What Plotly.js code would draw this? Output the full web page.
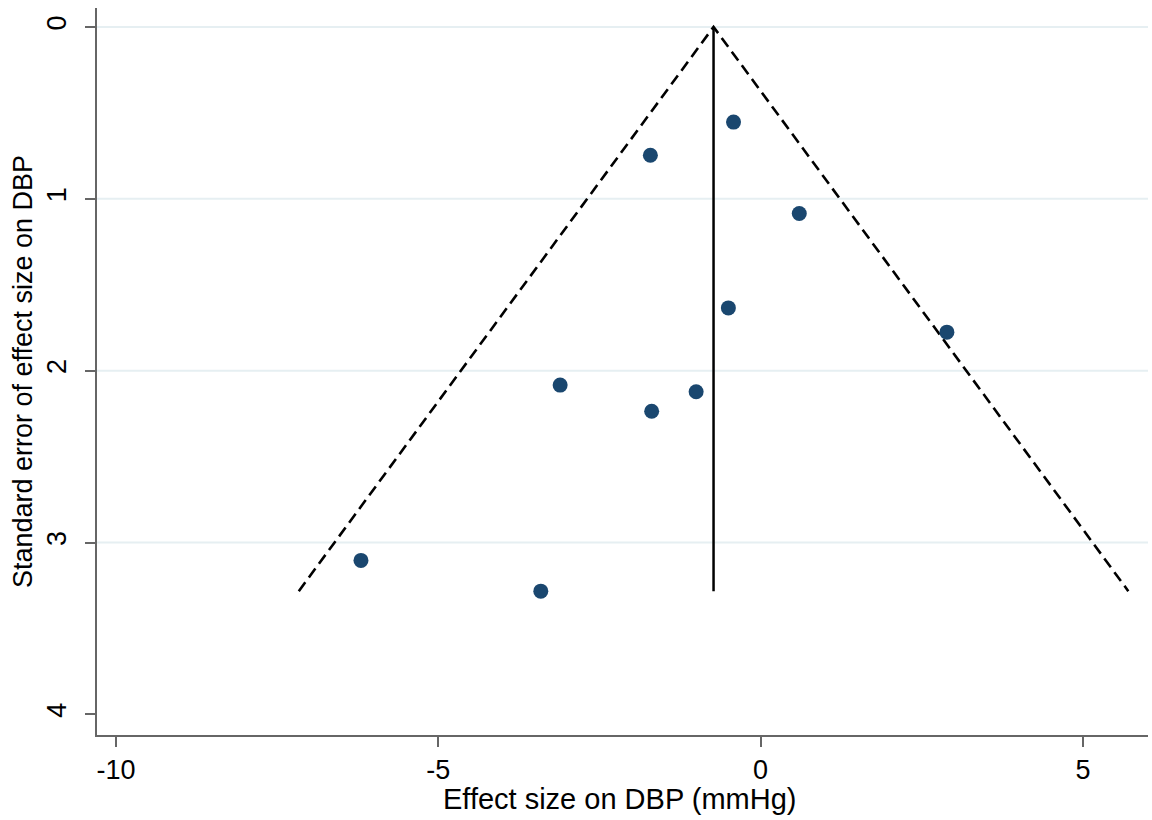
<!DOCTYPE html>
<html>
<head>
<meta charset="utf-8">
<script src="https://cdn.plot.ly/plotly-3.0.1.min.js"></script>
<style>html,body{margin:0;padding:0;background:#fff;}#chart{width:1152px;height:820px;}</style>
</head>
<body>
<div id="chart"></div>
<script>
// Study effect sizes (mmHg) and their standard errors
const effectSize = [-0.42, -1.71, 0.60, -0.50, 2.89, -3.11, -1.00, -1.69, -6.20, -3.41];
const standardError = [0.554, 0.747, 1.086, 1.635, 1.776, 2.084, 2.123, 2.236, 3.104, 3.283];
// Pooled estimate and funnel extent
const pooledEffect = -0.73;
const funnelMaxSE = 3.283;
const zCrit = 1.96;
const xTicks = [-10, -5, 0, 5];
const yTicks = [0, 1, 2, 3, 4];
const yGrid = [0, 1, 2, 3];
const xTitle = 'Effect size on DBP (mmHg)';
const yTitle = 'Standard error of effect size on DBP';

const fontFam = 'Liberation Sans, Arial, sans-serif';

const funnelX = [pooledEffect - zCrit * funnelMaxSE, pooledEffect, pooledEffect + zCrit * funnelMaxSE];
const funnelY = [funnelMaxSE, 0, funnelMaxSE];

const traces = [
  {x: funnelX, y: funnelY, mode: 'lines', type: 'scatter', hoverinfo: 'skip',
   line: {color: '#000', width: 2.6, dash: '11px,6px'}},
  {x: [pooledEffect, pooledEffect], y: [0, funnelMaxSE], mode: 'lines', type: 'scatter',
   line: {color: '#000', width: 2.5}},
  {x: effectSize, y: standardError, mode: 'markers', type: 'scatter',
   marker: {color: '#1a476f', size: 15}}
];

const shapes = yGrid.map(v => ({type: 'line', xref: 'paper', x0: 0, x1: 1, yref: 'y', y0: v, y1: v,
  line: {color: '#e6eff2', width: 2}, layer: 'below'}));

const layout = {
  width: 1152, height: 820,
  margin: {l: 97, r: 4, t: 8, b: 85},
  paper_bgcolor: '#fff', plot_bgcolor: '#fff',
  showlegend: false,
  shapes: shapes,
  font: {family: fontFam, color: '#000', size: 27},
  annotations: [{
    text: xTitle, xref: 'paper', yref: 'paper', x: 0.497, y: -0.088,
    xanchor: 'center', yanchor: 'middle', showarrow: false, borderpad: 0,
    font: {family: fontFam, size: 29, color: '#000'}
  }],
  xaxis: {
    range: [-10.295, 6.01], tickvals: xTicks, ticktext: xTicks.map(String),
    showgrid: false, zeroline: false, showline: true, linecolor: '#666', linewidth: 2,
    ticks: 'outside', ticklen: 10, tickwidth: 2, tickcolor: '#666',
    tickfont: {family: fontFam, size: 27, color: '#000'}
  },
  yaxis: {
    range: [4.12, -0.11], tickvals: yTicks, ticktext: yTicks.map(String), tickangle: -90,
    showgrid: false, zeroline: false, showline: true, linecolor: '#666', linewidth: 2,
    ticks: 'outside', ticklen: 10, tickwidth: 2, tickcolor: '#666', ticklabelstandoff: 8,
    tickfont: {family: fontFam, size: 27, color: '#000'},
    title: {text: yTitle, font: {family: fontFam, size: 27, color: '#000'}, standoff: 2}
  }
};

Plotly.newPlot('chart', traces, layout, {displayModeBar: false, staticPlot: true});
</script>
</body>
</html>
